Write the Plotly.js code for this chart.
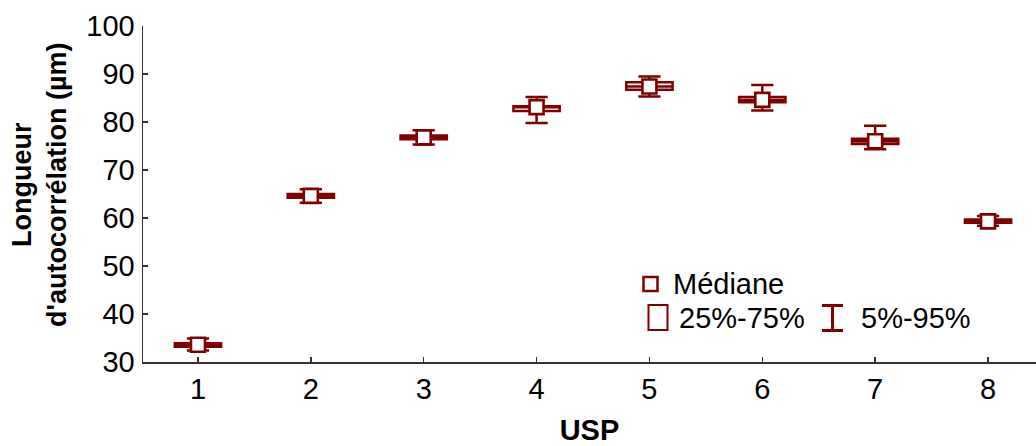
<!DOCTYPE html>
<html>
<head>
<meta charset="utf-8">
<script src="https://cdn.plot.ly/plotly-3.0.1.min.js"></script>
<style>html,body{margin:0;padding:0;background:#fff;}#chart{width:1036px;height:446px;}</style>
</head>
<body>
<div id="chart"></div>
<script>
// USP groups
var usp = [1, 2, 3, 4, 5, 6, 7, 8];
// Percentiles of autocorrelation length (µm)
var p05    = [32.4, 63.2, 75.3, 79.8, 85.3, 82.4, 74.3, 58.4];
var q25    = [33.2, 64.2, 76.4, 82.3, 86.7, 84.1, 75.4, 59.0];
var median = [33.6, 64.6, 76.8, 83.1, 87.4, 84.6, 76.0, 59.3];
var q75    = [33.9, 65.0, 77.2, 83.3, 88.3, 85.2, 76.5, 59.7];
var p95    = [34.9, 66.0, 78.3, 85.2, 89.5, 87.7, 79.2, 60.4];
var yTicks = [30, 40, 50, 60, 70, 80, 90, 100];

var red = '#800000';
var font = 'Arial, "Liberation Sans", sans-serif';

var traces = [
  {
    type: 'box',
    x: usp,
    q1: q25, median: median, q3: q75,
    lowerfence: p05, upperfence: p95,
    width: 0.41,
    whiskerwidth: 0.48,
    fillcolor: '#ffffff',
    line: {color: red, width: 2.5},
    boxpoints: false,
    hoverinfo: 'skip',
    showlegend: false
  },
  {
    type: 'scatter',
    mode: 'markers',
    x: usp,
    y: median,
    marker: {symbol: 'square', size: 14, color: '#ffffff', line: {color: red, width: 2.6}},
    showlegend: false
  }
];

var P = function(px){ return (px - 143) / 893; };
var Q = function(py){ return (362 - py) / 336; };

var shapes = [
  {type:'rect', xref:'paper', yref:'paper', x0:P(643.5), x1:P(657.5), y0:Q(291), y1:Q(277), line:{color:red, width:2.5}, fillcolor:'#ffffff'},
  {type:'rect', xref:'paper', yref:'paper', x0:P(648.5), x1:P(667.5), y0:Q(330), y1:Q(305), line:{color:red, width:2}, fillcolor:'#ffffff'},
  {type:'line', xref:'paper', yref:'paper', x0:P(822), x1:P(843), y0:Q(305.5), y1:Q(305.5), line:{color:red, width:3}},
  {type:'line', xref:'paper', yref:'paper', x0:P(822), x1:P(843), y0:Q(330.5), y1:Q(330.5), line:{color:red, width:3}},
  {type:'line', xref:'paper', yref:'paper', x0:P(832.5), x1:P(832.5), y0:Q(305.5), y1:Q(330.5), line:{color:red, width:3}}
];

var annotations = [
  {xref:'paper', yref:'paper', x:P(671), y:Q(284), xanchor:'left', yanchor:'middle', text:'Médiane', showarrow:false, font:{family:font, size:29, color:'#000'}},
  {xref:'paper', yref:'paper', x:P(677), y:Q(318), xanchor:'left', yanchor:'middle', text:'25%-75%', showarrow:false, font:{family:font, size:29, color:'#000'}},
  {xref:'paper', yref:'paper', x:P(859), y:Q(318), xanchor:'left', yanchor:'middle', text:'5%-95%', showarrow:false, font:{family:font, size:29, color:'#000'}},
  {xref:'paper', yref:'paper', x:P(39), y:Q(185), xanchor:'center', yanchor:'middle', textangle:-90,
   text:'<b>Longueur<br>d\'autocorrélation (µm)</b>', showarrow:false, font:{family:font, size:27, color:'#000'}}
];

var layout = {
  width: 1036, height: 446,
  margin: {l: 143, r: 0, t: 26, b: 84, pad: 0},
  paper_bgcolor: '#ffffff', plot_bgcolor: '#ffffff',
  showlegend: false,
  font: {family: font, color: '#000'},
  xaxis: {
    range: [0.513, 8.425],
    tickvals: usp, ticktext: usp.map(String),
    ticks: 'inside', ticklen: 5, tickwidth: 1.5, tickcolor: '#333',
    showline: true, linecolor: '#333', linewidth: 1.5,
    showgrid: false, zeroline: false,
    ticklabelstandoff: 1,
    tickfont: {family: font, size: 29, color: '#000'},
    title: {text: '<b>USP</b>', font: {family: font, size: 29, color: '#000'}, standoff: 18},
    automargin: false
  },
  yaxis: {
    range: [30, 100],
    tickvals: yTicks, ticktext: yTicks.map(String),
    ticks: 'inside', ticklen: 5, tickwidth: 1.5, tickcolor: '#333',
    showline: true, linecolor: '#333', linewidth: 1.5,
    showgrid: false, zeroline: false,
    ticklabelstandoff: 1,
    tickfont: {family: font, size: 29, color: '#000'},
    automargin: false
  },
  shapes: shapes,
  annotations: annotations
};

Plotly.newPlot('chart', traces, layout, {staticPlot: true, displayModeBar: false});
</script>
</body>
</html>
